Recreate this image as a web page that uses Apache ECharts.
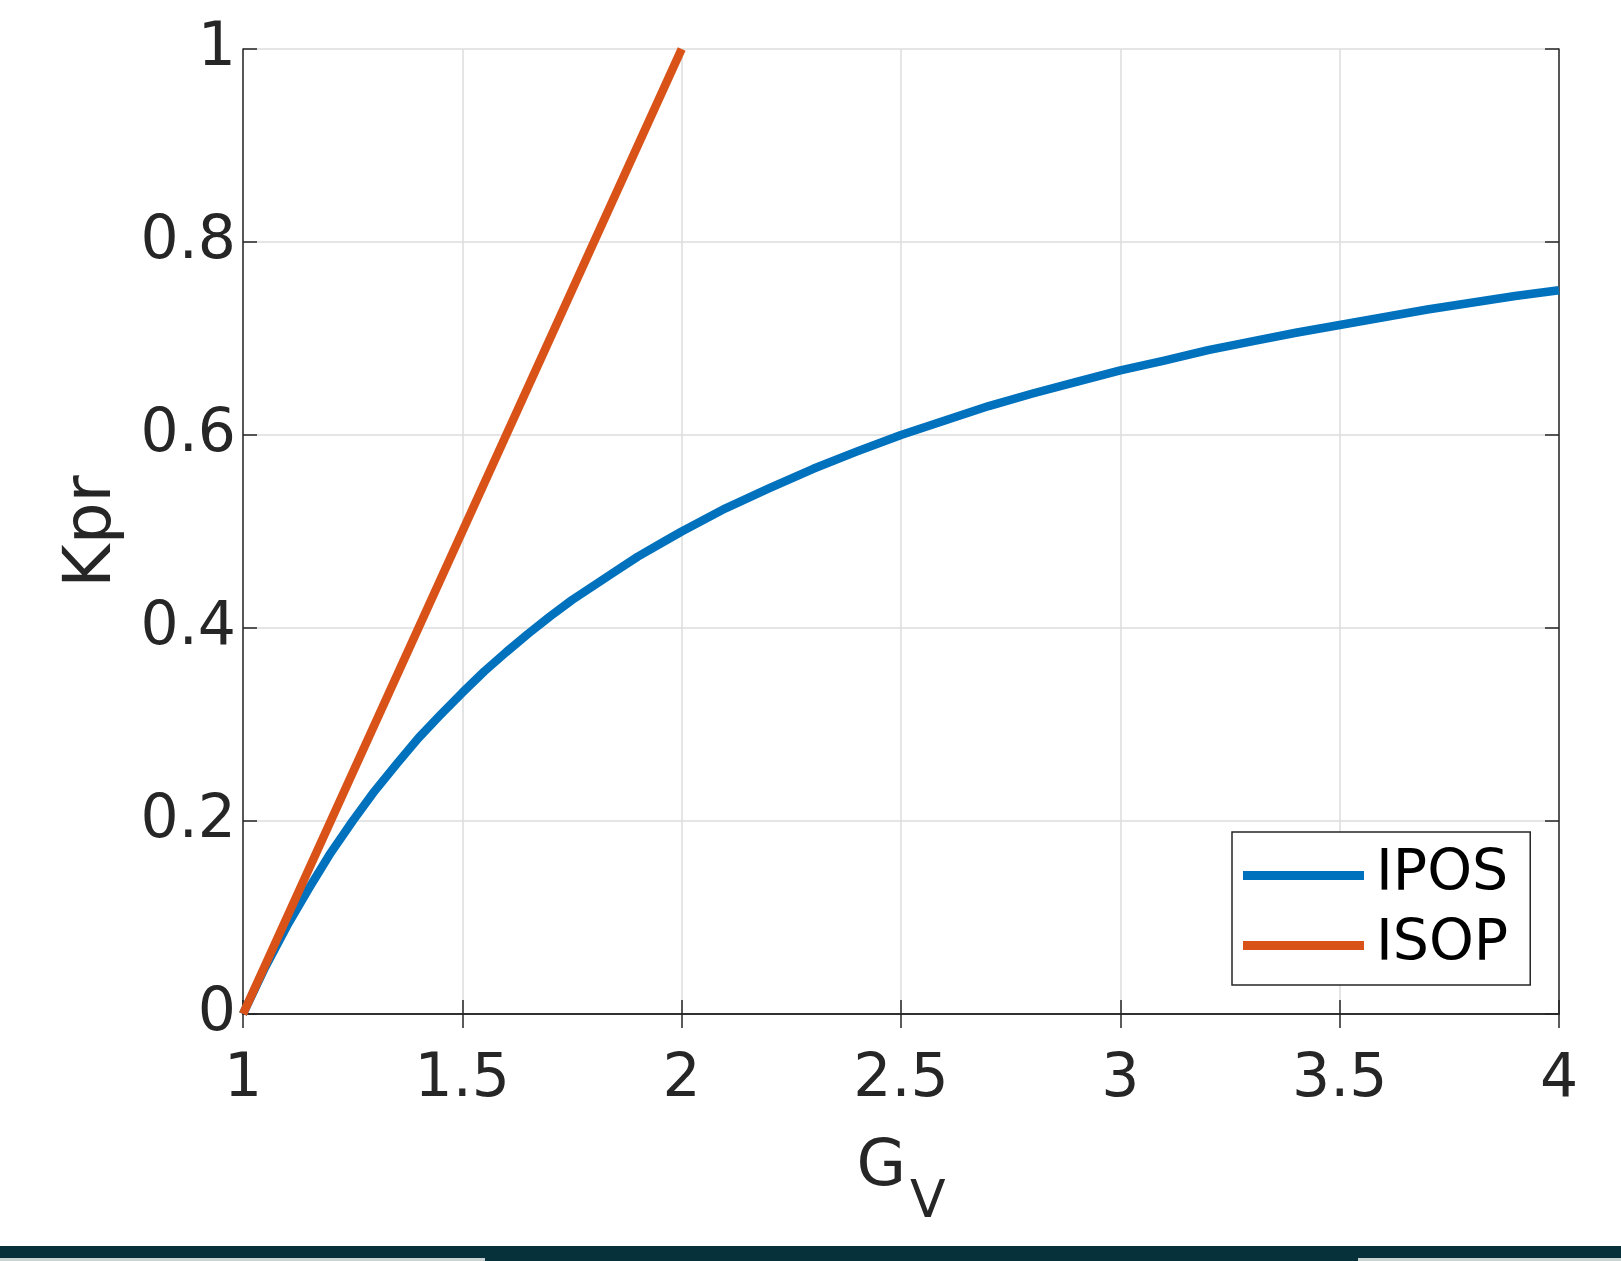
<!DOCTYPE html>
<html>
<head>
<meta charset="utf-8">
<script src="https://cdn.jsdelivr.net/npm/echarts@6/dist/echarts.min.js"></script>
<style>
html,body{margin:0;padding:0;background:#fff;}
#chart{width:1621px;height:1261px;}
</style>
</head>
<body>
<div id="chart"></div>
<script>
// Data
const gvIPOS = [1.0,1.05,1.1,1.15,1.2,1.25,1.3,1.35,1.4,1.45,1.5,1.55,1.6,1.65,1.7,1.75,1.8,1.85,1.9,1.95,2.0,2.1,2.2,2.3,2.4,2.5,2.6,2.7,2.8,2.9,3.0,3.1,3.2,3.3,3.4,3.5,3.6,3.7,3.8,3.9,4.0];
const kprIPOS = [0,0.048,0.091,0.130,0.167,0.200,0.231,0.259,0.286,0.310,0.333,0.355,0.375,0.394,0.412,0.429,0.444,0.459,0.474,0.487,0.500,0.524,0.545,0.565,0.583,0.600,0.615,0.630,0.643,0.655,0.667,0.677,0.688,0.697,0.706,0.714,0.722,0.730,0.737,0.744,0.750];
const gvISOP = [1.0,2.0];
const kprISOP = [0,1];
const seriesNames = ['IPOS','ISOP'];
const xTicks = [1,1.5,2,2.5,3,3.5,4];
const yTicks = [0,0.2,0.4,0.6,0.8,1];

const pairs = (xs, ys) => xs.map((x, i) => [x, ys[i]]);
const font = 'DejaVu Sans';
const txt = '#262626';

const chart = echarts.init(document.getElementById('chart'), null, {renderer: 'canvas'});
const baseX = {
  type: 'value', min: 1, max: 4, interval: 0.5,
  axisLine: {show: true, lineStyle: {color: txt, width: 1.5}},
  axisTick: {show: true, inside: true, length: 14, lineStyle: {color: txt, width: 1.5}},
};
const baseY = {
  type: 'value', min: 0, max: 1, interval: 0.2,
  axisLine: {show: true, lineStyle: {color: txt, width: 1.5}},
  axisTick: {show: true, inside: true, length: 14, lineStyle: {color: txt, width: 1.5}},
};
chart.setOption({
  animation: false,
  backgroundColor: '#fff',
  grid: {left: 243, top: 49, right: 62, bottom: 247, containLabel: false},
  xAxis: [
    Object.assign({}, baseX, {
      position: 'bottom',
      name: '{g|G}{v|V}',
      nameLocation: 'middle',
      nameGap: 122,
      nameTextStyle: {
        rich: {
          g: {fontFamily: font, fontSize: 64, color: txt},
          v: {fontFamily: font, fontSize: 52, color: txt, padding: [0, 0, -70, 4]}
        }
      },
      axisLabel: {
        fontFamily: font, fontSize: 60, color: txt, margin: 36,
        formatter: v => (xTicks.indexOf(v) >= 0 ? String(v) : '')
      },
      splitLine: {show: true, lineStyle: {color: '#dcdcdc', width: 1.5}}
    }),
    Object.assign({}, baseX, {position: 'top', axisLabel: {show: false}, splitLine: {show: false}})
  ],
  yAxis: [
    Object.assign({}, baseY, {
      position: 'left',
      name: 'Kpr',
      nameLocation: 'middle',
      nameGap: 117,
      nameTextStyle: {fontFamily: font, fontSize: 66, color: txt},
      axisLabel: {
        fontFamily: font, fontSize: 60, color: txt, margin: 7,
        formatter: v => (yTicks.indexOf(v) >= 0 ? String(v) : '')
      },
      splitLine: {show: true, lineStyle: {color: '#dcdcdc', width: 1.5}}
    }),
    Object.assign({}, baseY, {position: 'right', axisLabel: {show: false}, splitLine: {show: false}})
  ],
  legend: {
    orient: 'vertical',
    left: 1232, top: 832,
    padding: [15, 22, 11, 11],
    itemWidth: 121, itemHeight: 9, itemGap: 13,
    icon: 'rect',
    borderColor: '#262626', borderWidth: 1.5,
    backgroundColor: '#fff',
    textStyle: {fontFamily: font, fontSize: 57, color: '#000', lineHeight: 56, padding: [0, 0, 0, 7]},
    data: seriesNames
  },
  series: [
    {name: seriesNames[0], type: 'line', data: pairs(gvIPOS, kprIPOS), showSymbol: false, symbol: 'none',
     lineStyle: {color: '#0072BD', width: 8.5, join: 'round'}, itemStyle: {color: '#0072BD'}, z: 3},
    {name: seriesNames[1], type: 'line', data: pairs(gvISOP, kprISOP), showSymbol: false, symbol: 'none',
     lineStyle: {color: '#D95319', width: 8.5}, itemStyle: {color: '#D95319'}, z: 4}
  ],
  graphic: [
    {type: 'rect', shape: {x: 0, y: 1246, width: 1621, height: 15}, style: {fill: '#06303a'}, silent: true},
    {type: 'rect', shape: {x: 0, y: 1258, width: 485, height: 3}, style: {fill: '#c9d3d4'}, silent: true},
    {type: 'rect', shape: {x: 1358, y: 1258, width: 263, height: 3}, style: {fill: '#c9d3d4'}, silent: true}
  ]
});
</script>
</body>
</html>
